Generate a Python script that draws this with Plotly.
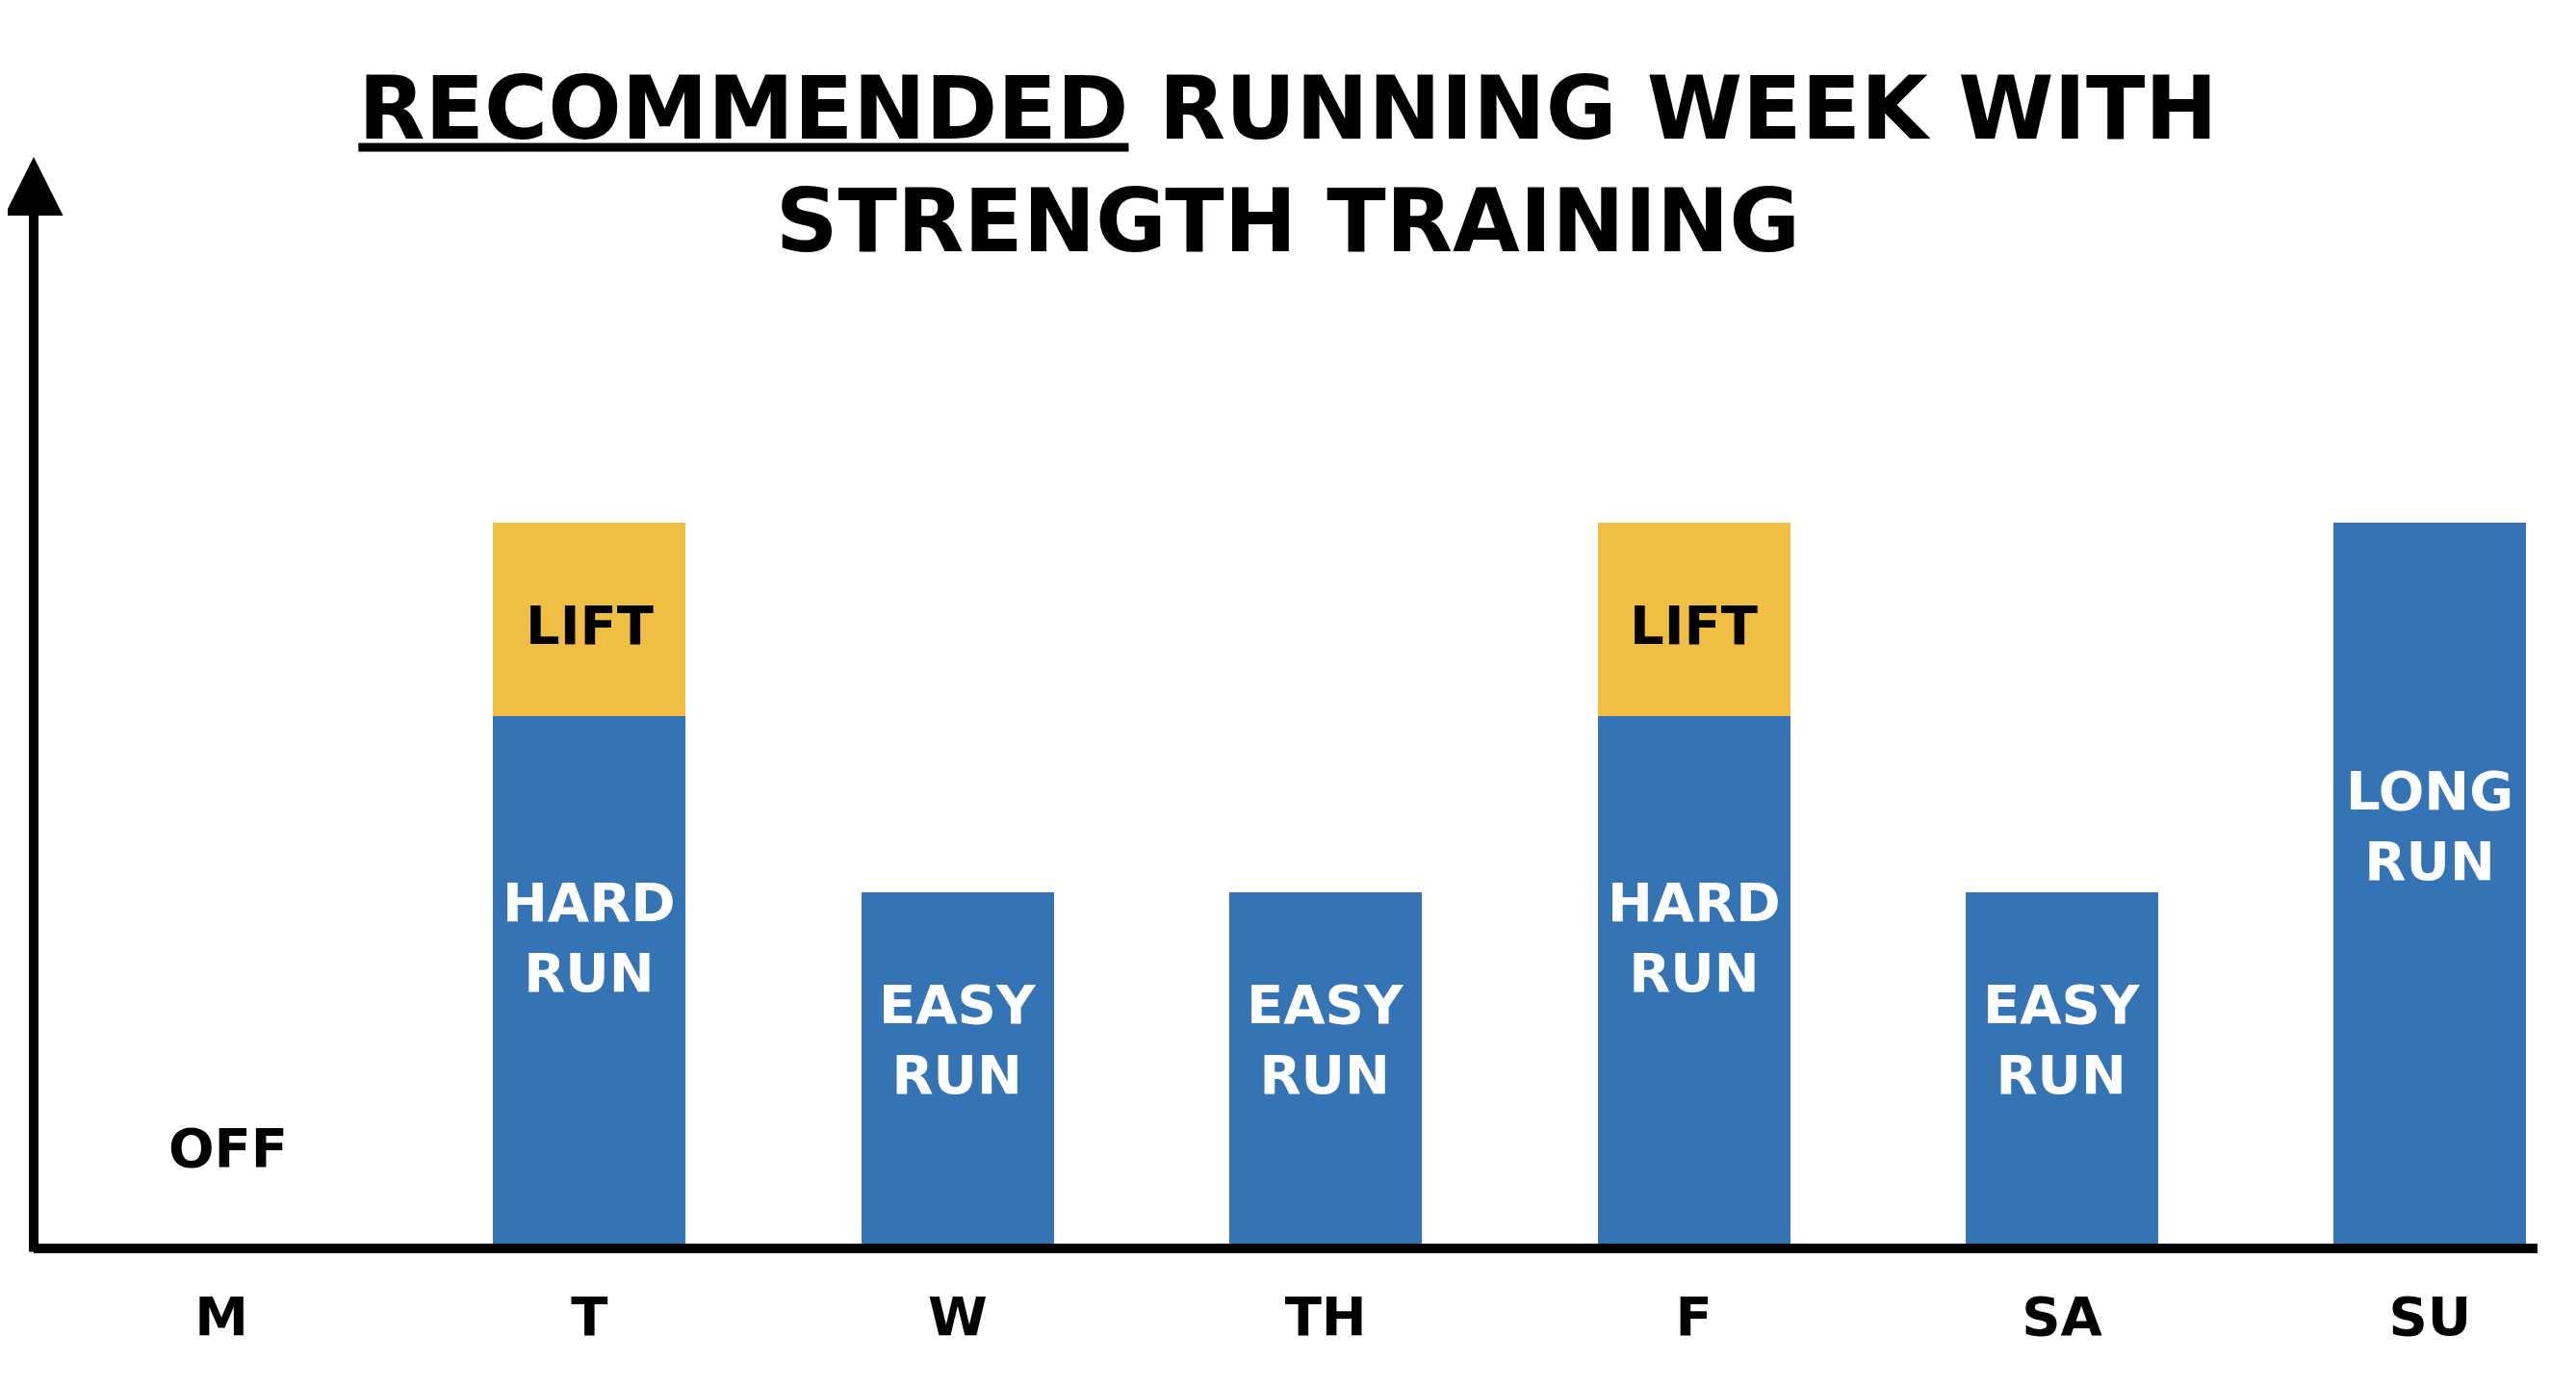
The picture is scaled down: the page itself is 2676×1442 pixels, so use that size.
#!/usr/bin/env python3

import plotly.graph_objects as go

# week days on the x axis
days = ['M', 'T', 'W', 'TH', 'F', 'SA', 'SU']

# relative effort of each session (no unit in the original)
run_load = [0, 3, 2, 2, 3, 2, 4.1]
lift_load = [0, 1.1, 0, 0, 1.1, 0, 0]

run_labels = ['', 'HARD<br>RUN', 'EASY<br>RUN', 'EASY<br>RUN', 'HARD<br>RUN', 'EASY<br>RUN', 'LONG<br>RUN']
lift_labels = ['', 'LIFT', '', '', 'LIFT', '', '']
rest_labels = ['OFF', '', '', '', '', '', '']

title = '<u>RECOMMENDED</u> RUNNING WEEK WITH<br>STRENGTH TRAINING'

blue = '#3474B4'
yellow = '#EFBE42'
font_family = 'DejaVu Sans'


def label_font(color):
    return dict(family=font_family, size=56, color=color, weight='bold')


fig = go.Figure()
fig.add_trace(go.Bar(x=days, y=run_load, width=0.523, marker=dict(color=blue, line=dict(width=0)),
                     hoverinfo='skip'))
fig.add_trace(go.Bar(x=days, y=lift_load, width=0.523, marker=dict(color=yellow, line=dict(width=0)),
                     hoverinfo='skip'))

# run labels sit a bit above the middle of the blue block
annotations = []
for day, run, lift, rl, ll, off in zip(days, run_load, lift_load, run_labels, lift_labels, rest_labels):
    if rl:
        annotations.append(dict(x=day, y=run * 0.58, text=rl, showarrow=False, font=label_font('white')))
    if ll:
        annotations.append(dict(x=day, y=run + lift / 2, text=ll, showarrow=False, yshift=-6,
                                font=label_font('black')))
    if off:
        annotations.append(dict(x=day, y=0, text=off, showarrow=False, yshift=100, xshift=7,
                                font=label_font('black')))

# y axis drawn as an arrow
annotations.append(dict(xref='paper', yref='paper', x=0, y=1, text='', showarrow=True,
                        axref='pixel', ayref='pixel', ax=0, ay=1139,
                        arrowhead=2, arrowsize=1.22, arrowwidth=10, arrowcolor='black'))

fig.update_layout(
    width=2676, height=1442,
    barmode='stack',
    showlegend=False,
    plot_bgcolor='white', paper_bgcolor='white',
    margin=dict(l=27, r=48, t=155, b=158),
    title=dict(text=title, x=0.497, xanchor='center', xref='container', y=0.906, yanchor='middle',
               yref='container', font=dict(family=font_family, size=90, color='black', weight='bold')),
    xaxis=dict(range=[-0.51, 6.292], showline=True, linecolor='black', linewidth=10,
               showgrid=False, zeroline=False, ticks='outside', ticklen=18,
               tickcolor='rgba(0,0,0,0)', tickfont=label_font('black')),
    yaxis=dict(range=[0, 6.18], showline=False, showgrid=False, zeroline=False,
               showticklabels=False, ticks=''),
    annotations=annotations,
)

fig.write_html('out.html')
